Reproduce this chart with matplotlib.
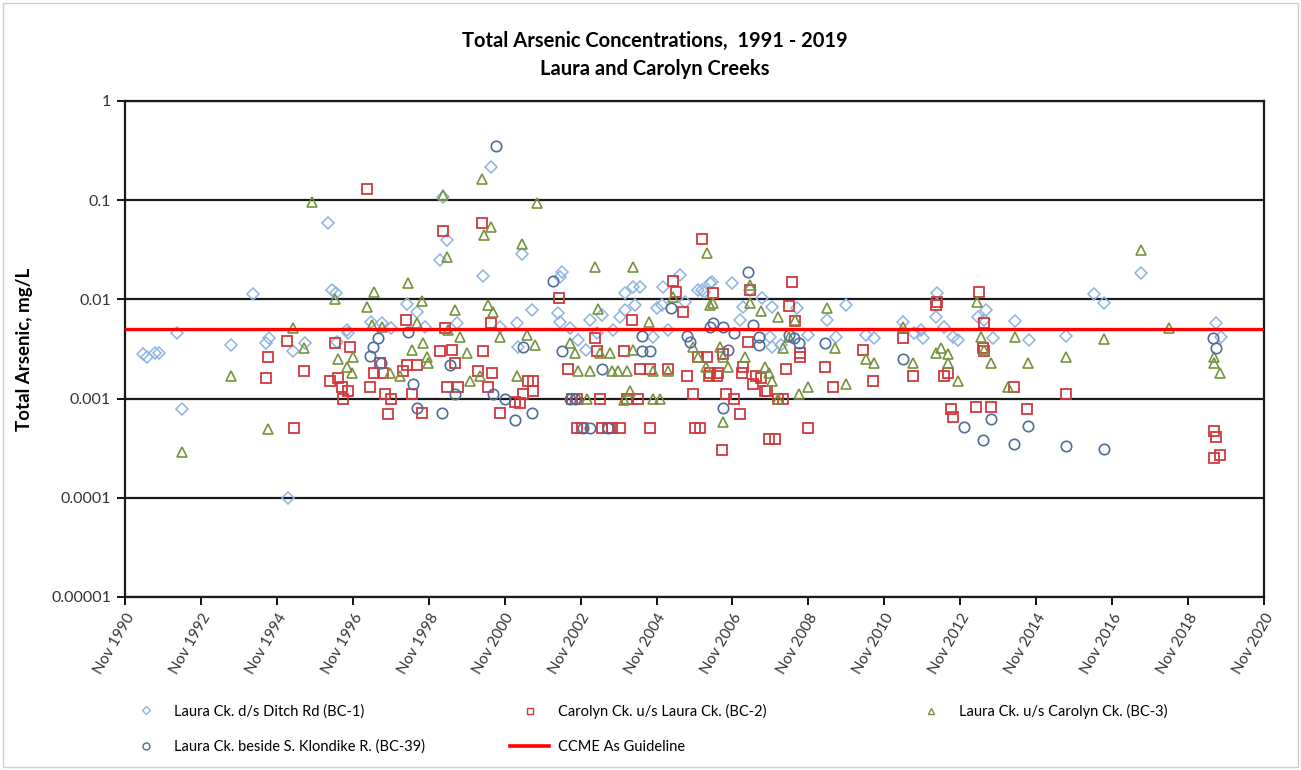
import matplotlib
matplotlib.use("Agg")
import matplotlib.pyplot as plt
from matplotlib.lines import Line2D
from matplotlib.patches import Rectangle

plt.rcParams["font.family"] = ["Lato", "DejaVu Sans"]

# sample date (decimal year) and total arsenic (mg/L)
bc1_year = [1991.30, 1991.41, 1991.62, 1991.72, 1992.20, 1992.33, 1993.62, 1994.20, 1994.54, 1994.62,
            1995.26, 1995.12, 1995.57, 1996.18, 1996.28, 1996.39, 1996.42, 1996.71, 1997.31, 1997.60,
            1997.84, 1999.13, 2000.27, 1998.26, 1998.53, 1999.58, 2000.71, 2001.19, 1996.68, 1998.74,
            1999.32, 1999.21, 2000.48, 2001.29, 2002.35, 2002.30, 2001.56, 2002.24, 2002.30, 2003.09,
            2003.40, 2003.88, 2004.01, 2004.27, 2004.40, 2004.01, 2004.22, 2004.85, 2004.98, 2005.01,
            2005.46, 2005.59, 2005.91, 2006.04, 2006.25, 2004.75, 2005.12, 2002.77, 2003.69, 2002.56,
            2003.27, 2001.16, 2002.96, 2006.30, 2006.83, 2007.30, 2007.62, 2007.88, 2007.12, 2007.04,
            2007.83, 2007.88, 2008.10, 2008.54, 2008.81, 2009.33, 2009.81, 2009.55, 2010.34, 2010.55,
            2011.31, 2011.60, 2011.79, 2011.84, 2012.23, 2012.18, 2012.39, 2012.63, 2012.76, 2013.45,
            2013.50, 2013.29, 2013.68, 2006.07, 2014.26, 2014.63, 2015.61, 2016.35, 2016.61, 2017.59,
            2019.56, 2019.70]
bc1_as = [0.0028, 0.0026, 0.0029, 0.0029, 0.0046, 0.00079, 0.0035, 0.0113, 0.0036, 0.0041,
          0.0030, 0.0001, 0.0036, 0.059, 0.0124, 0.0116, 0.0037, 0.0046, 0.0059, 0.0058,
          0.0052, 0.025, 0.0172, 0.0090, 0.0075, 0.0058, 0.0053, 0.0033, 0.0049, 0.0053,
          0.040, 0.108, 0.216, 0.029, 0.0189, 0.0168, 0.0078, 0.0073, 0.0059, 0.0062,
          0.0070, 0.0067, 0.0078, 0.0088, 0.0133, 0.0116, 0.0133, 0.0082, 0.0088, 0.0133,
          0.0176, 0.0094, 0.0124, 0.0124, 0.0146, 0.0042, 0.0049, 0.0039, 0.0049, 0.0052,
          0.0046, 0.0058, 0.0031, 0.0150, 0.0146, 0.0124, 0.0103, 0.0084, 0.0084, 0.0062,
          0.0042, 0.0033, 0.0035, 0.0082, 0.0044, 0.0062, 0.0088, 0.0042, 0.0044, 0.0041,
          0.0059, 0.0046, 0.0049, 0.0041, 0.0116, 0.0067, 0.0053, 0.0042, 0.0039, 0.0062,
          0.0078, 0.0067, 0.0041, 0.0119, 0.0061, 0.0039, 0.0043, 0.0113, 0.0092, 0.0185,
          0.0058, 0.0042]

bc2_year = [1997.21, 1995.10, 1994.60, 1994.54, 1995.55, 1995.28, 1996.36, 1996.76, 1996.23, 1996.44,
            1996.55, 1996.71, 1996.57, 1997.29, 1997.39, 1997.55, 1997.63, 1997.68, 1997.84, 1997.76,
            1998.16, 1998.26, 1998.53, 1998.24, 1998.39, 1998.66, 1999.13, 1999.45, 1999.53, 1999.26,
            1999.32, 1999.61, 2000.13, 2000.27, 2000.50, 2000.40, 2000.48, 2000.71, 2001.11, 1999.21,
            2000.24, 2006.04, 2002.27, 2005.27, 2005.33, 2006.33, 2005.54, 2004.19, 2003.22, 2001.45,
            2001.58, 2001.32, 2001.58, 2001.24, 2002.51, 2003.27, 2003.96, 2004.40, 2004.67, 2005.14,
            2005.64, 2002.61, 2002.74, 2003.35, 2004.06, 2004.35, 2005.80, 2002.74, 2002.88, 2003.40,
            2003.54, 2003.67, 2003.88, 2004.67, 2005.85, 2005.91, 2006.17, 2006.25, 2006.46, 2006.55,
            2007.30, 2008.39, 2008.31, 2008.49, 2007.25, 2008.60, 2008.62, 2009.28, 2010.28, 2011.31,
            2012.23, 2012.18, 2013.32, 2013.45, 2013.42, 2013.45, 2008.23, 2009.49, 2010.52, 2011.58,
            2012.39, 2012.52, 2006.57, 2006.20, 2006.43, 2007.12, 2007.09, 2007.44, 2007.57, 2007.38,
            2007.75, 2007.70, 2008.02, 2008.17, 2006.65, 2006.86, 2007.02, 2005.98, 2008.81, 2007.78,
            2007.96, 2012.58, 2012.63, 2013.24, 2013.63, 2014.24, 2014.58, 2015.61, 2019.51, 2019.56,
            2019.51, 2019.67]
bc2_as = [0.13, 0.0038, 0.0026, 0.0016, 0.0019, 0.00051, 0.0036, 0.0033, 0.0015, 0.0016,
          0.0013, 0.0012, 0.0010, 0.0013, 0.0018, 0.0023, 0.0018, 0.0011, 0.0010, 0.00070,
          0.0019, 0.0022, 0.0022, 0.0062, 0.0011, 0.00072, 0.0030, 0.0031, 0.0023, 0.0052,
          0.0013, 0.0013, 0.0019, 0.0030, 0.0018, 0.0013, 0.0058, 0.00072, 0.00092, 0.049,
          0.059, 0.0407, 0.0103, 0.0153, 0.0119, 0.0116, 0.0075, 0.0062, 0.0041, 0.0015,
          0.0015, 0.0011, 0.0012, 0.00090, 0.0020, 0.0030, 0.0030, 0.0020, 0.0020, 0.0020,
          0.0017, 0.0010, 0.0010, 0.0010, 0.0010, 0.0010, 0.0011, 0.00051, 0.00051, 0.00051,
          0.00051, 0.00051, 0.00051, 0.00051, 0.00051, 0.0026, 0.0026, 0.0018, 0.0018, 0.00030,
          0.0124, 0.0150, 0.0086, 0.0061, 0.0037, 0.0029, 0.0026, 0.0021, 0.0031, 0.0041,
          0.0094, 0.0088, 0.0119, 0.0058, 0.0032, 0.0030, 0.0020, 0.0013, 0.0015, 0.0017,
          0.0017, 0.0018, 0.0028, 0.0017, 0.0017, 0.0021, 0.0018, 0.0017, 0.0016, 0.0014,
          0.0012, 0.0012, 0.0010, 0.0010, 0.0011, 0.0010, 0.00070, 0.00051, 0.00051, 0.00039,
          0.00039, 0.00079, 0.00065, 0.00082, 0.00082, 0.0013, 0.00079, 0.0011, 0.00047, 0.00041,
          0.00025, 0.00027]

bc3_year = [1995.75, 1995.26, 1995.55, 1993.62, 1994.60, 1992.33, 1996.36, 1997.21, 1997.39, 1998.29,
            1998.66, 1996.44, 1996.68, 1996.84, 1996.81, 1997.34, 1997.60, 1997.81, 1998.08, 1998.39,
            1998.68, 1998.79, 1998.53, 1999.32, 1999.53, 2000.40, 2000.53, 1999.34, 1999.66, 1999.84,
            1999.92, 2000.19, 2000.71, 2001.16, 1999.21, 2000.24, 2001.69, 2000.29, 2000.48, 2001.29,
            2003.22, 2004.22, 2006.17, 2003.30, 2004.62, 2005.27, 2006.25, 2001.42, 2001.64, 1998.82,
            2002.56, 2002.69, 2002.77, 2003.09, 2003.67, 2003.82, 2004.06, 2004.75, 2005.12, 2003.01,
            2004.14, 2003.96, 2004.75, 2004.93, 2003.35, 2003.61, 2004.22, 2005.80, 2005.93, 2006.12,
            2007.28, 2007.30, 2007.59, 2008.04, 2008.49, 2006.33, 2009.31, 2009.52, 2011.31, 2010.34,
            2010.55, 2011.58, 2012.18, 2012.31, 2012.50, 2012.52, 2012.76, 2013.26, 2013.37, 2013.45,
            2013.63, 2006.51, 2006.57, 2007.17, 2006.70, 2007.70, 2007.78, 2007.88, 2008.17, 2008.04,
            2008.57, 2008.83, 2009.81, 2006.59, 2008.33, 2014.10, 2014.26, 2014.61, 2015.61, 2016.61,
            2017.59, 2018.33, 2019.51, 2019.51, 2019.67]
bc3_as = [0.096, 0.0052, 0.0032, 0.0017, 0.00049, 0.00029, 0.0100, 0.0084, 0.0119, 0.0146,
          0.0096, 0.0025, 0.0021, 0.0026, 0.0018, 0.0055, 0.0053, 0.0018, 0.0017, 0.0031,
          0.0036, 0.0026, 0.0058, 0.0268, 0.0078, 0.0088, 0.0075, 0.0049, 0.0042, 0.0029,
          0.0015, 0.0017, 0.0042, 0.0017, 0.113, 0.164, 0.094, 0.0446, 0.054, 0.0362,
          0.0212, 0.0212, 0.0294, 0.0080, 0.0059, 0.0106, 0.0088, 0.0044, 0.0035, 0.0023,
          0.0036, 0.0029, 0.0019, 0.0019, 0.0019, 0.0019, 0.0019, 0.0019, 0.0019, 0.0010,
          0.0012, 0.00097, 0.0010, 0.0010, 0.0029, 0.0029, 0.0031, 0.0033, 0.0026, 0.0021,
          0.0140, 0.0092, 0.0076, 0.0067, 0.0062, 0.0092, 0.0082, 0.0032, 0.0053, 0.0025,
          0.0023, 0.0023, 0.0029, 0.0032, 0.0028, 0.0023, 0.0015, 0.0094, 0.0042, 0.0031,
          0.0023, 0.0033, 0.0026, 0.0026, 0.0021, 0.0021, 0.0018, 0.0015, 0.0032, 0.0010,
          0.0011, 0.0013, 0.0014, 0.00058, 0.0042, 0.0013, 0.0042, 0.0023, 0.0026, 0.0040,
          0.0315, 0.0052, 0.0023, 0.0026, 0.0018]

bc39_year = [1997.29, 1997.37, 1997.50, 1998.29, 1998.42, 1998.53, 1997.58, 1999.18, 1999.40, 1999.53,
             2000.53, 2000.85, 2000.61, 2002.11, 2001.32, 2002.35, 2003.40, 2004.46, 2005.20, 2004.46,
             2004.67, 2001.11, 2001.56, 2002.56, 2002.69, 2002.90, 2003.09, 2003.54, 2005.64, 2006.25,
             2006.33, 2005.72, 2007.25, 2006.57, 2007.38, 2006.86, 2006.70, 2007.52, 2007.54, 2008.31,
             2008.44, 2008.57, 2009.28, 2011.31, 2006.59, 2012.92, 2013.42, 2013.63, 2014.24, 2014.61,
             2015.61, 2016.61, 2019.49, 2019.56]
bc39_as = [0.0027, 0.0033, 0.0041, 0.0047, 0.0014, 0.00080, 0.0023, 0.00072, 0.0022, 0.0011,
           0.0011, 0.0010, 0.35, 0.0153, 0.0033, 0.0030, 0.0020, 0.0043, 0.0082, 0.0030,
           0.0030, 0.00061, 0.00072, 0.0010, 0.0010, 0.00051, 0.00051, 0.00051, 0.0043, 0.0053,
           0.0058, 0.0037, 0.0189, 0.0053, 0.0055, 0.0046, 0.0031, 0.0042, 0.0035, 0.0044,
           0.0041, 0.0036, 0.0036, 0.0025, 0.00080, 0.00052, 0.00038, 0.00062, 0.00035, 0.00053,
           0.00033, 0.00031, 0.0041, 0.0032]

guideline = 0.005  # CCME arsenic guideline, mg/L

tick_years = list(range(1990, 2021, 2))
tick_labels = ["Nov %d" % y for y in tick_years]

W, H = 1301, 770
fig = plt.figure(figsize=(W / 100, H / 100), dpi=100)
ax = fig.add_axes([125 / W, 1 - 597 / H, (1264 - 125) / W, (597 - 101) / H])

c1, c2, c3, c4 = "#8db3e2", "#d2383a", "#76923c", "#4e6d9b"
ms = 7.5
ax.plot(bc1_year, bc1_as, "D", ms=6.2, mfc="none", mec=c1, mew=1.1, zorder=3)
ax.plot(bc2_year, bc2_as, "s", ms=ms, mfc="none", mec=c2, mew=1.3, zorder=3)
ax.plot(bc3_year, bc3_as, "^", ms=ms, mfc="none", mec=c3, mew=1.2, zorder=3)
ax.plot(bc39_year, bc39_as, "o", ms=ms, mfc="none", mec=c4, mew=1.2, zorder=3)
ax.axhline(guideline, color="#ff0000", lw=2.4, zorder=4)

ax.set_yscale("log")
ax.set_ylim(1e-5, 1)
ax.set_xlim(1990.83, 2020.83)
ax.set_yticks([1e-5, 1e-4, 1e-3, 1e-2, 1e-1, 1])
ax.set_yticklabels(["0.00001", "0.0001", "0.001", "0.01", "0.1", "1"], fontsize=11.5, color="#333333")
ax.minorticks_off()
ax.set_xticks([y + 0.83 for y in tick_years])
ax.set_xticklabels(tick_labels, rotation=60, ha="right", rotation_mode="anchor", fontsize=11,
                   color="#333333")
ax.tick_params(length=6, width=1.3, direction="out", pad=4)
ax.yaxis.grid(True, color="#1a1a1a", lw=1.6)
ax.set_axisbelow(True)
for s in ax.spines.values():
    s.set_linewidth(1.6)
    s.set_color("#1a1a1a")

ax.set_ylabel("Total Arsenic, mg/L", fontsize=13.5, fontweight="bold")
ax.yaxis.set_label_coords(-0.081, 0.5)
fig.text(0.503, 1 - 41 / H, "Total Arsenic Concentrations,  1991 - 2019", ha="center", va="center",
         fontsize=14.5, fontweight="bold")
fig.text(0.503, 1 - 69 / H, "Laura and Carolyn Creeks", ha="center", va="center",
         fontsize=14.5, fontweight="bold")

# legend, three columns laid out as in the original
h1 = Line2D([], [], ls="none", marker="D", ms=4.5, mfc="none", mec=c1, mew=1)
h2 = Line2D([], [], ls="none", marker="s", ms=5, mfc="none", mec=c2, mew=1)
h3 = Line2D([], [], ls="none", marker="^", ms=5, mfc="none", mec=c3, mew=1)
h4 = Line2D([], [], ls="none", marker="o", ms=5, mfc="none", mec=c4, mew=1)
h5 = Line2D([], [], color="#ff0000", lw=2.6)
kw = dict(frameon=False, fontsize=10.5, borderpad=0, borderaxespad=0, handlelength=2.7,
          handletextpad=0.6, labelspacing=1.45, loc="upper left")
fig.legend([h1, h4], ["Laura Ck. d/s Ditch Rd (BC-1)", "Laura Ck. beside S. Klondike R. (BC-39)"],
           bbox_to_anchor=(126 / W, 1 - 704 / H), **kw)
fig.legend([h2, h5], ["Carolyn Ck. u/s Laura Ck. (BC-2)", "CCME As Guideline"],
           bbox_to_anchor=(510 / W, 1 - 704 / H), **kw)
fig.legend([h3], ["Laura Ck. u/s Carolyn Ck. (BC-3)"],
           bbox_to_anchor=(911 / W, 1 - 704 / H), **kw)

fig.patches.append(Rectangle((3 / W, 3 / H), 1 - 6 / W, 1 - 6 / H, transform=fig.transFigure,
                             fill=False, edgecolor="#d0d0d0", lw=1))

fig.savefig("out.png", dpi=100)
